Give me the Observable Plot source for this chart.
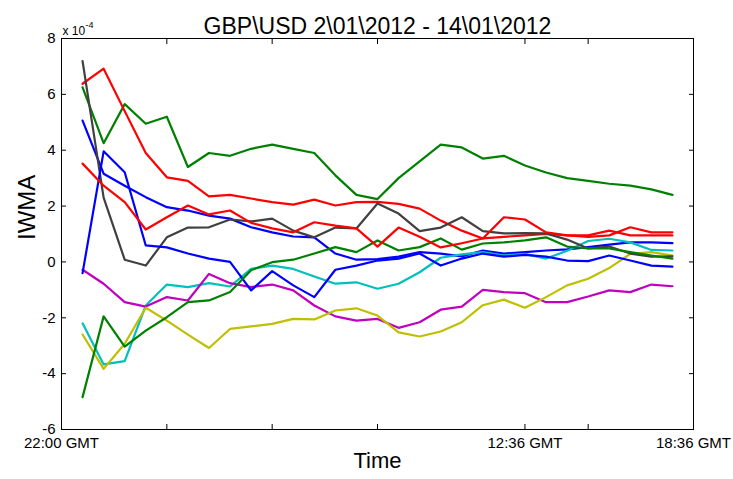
<!DOCTYPE html>
<html><head><meta charset="utf-8">
<script src="https://cdn.jsdelivr.net/npm/d3@7"></script>
<script src="https://cdn.jsdelivr.net/npm/@observablehq/plot@0.6"></script>
<style>body{margin:0;background:#fff;} svg{display:block}</style>
</head><body><div id="chart"></div>
<script>
// Observation index (x) — 29 samples
const steps = d3.range(29);
const xTicks = [-1, 4, 9, 14, 21, 24, 29];
const xTickLabels = {"-1": "22:00 GMT", "21": "12:36 GMT", "29": "18:36 GMT"};
const yTicks = [-6, -4, -2, 0, 2, 4, 6, 8];

// IWMA values in units of 1e-4
const blueA   = [5.06,3.16,2.73,2.32,1.96,1.84,1.66,1.55,1.24,1.06,0.91,0.88,0.3,0.08,0.1,0.19,0.35,0.3,0.2,0.41,0.3,0.35,0.41,0.45,0.53,0.62,0.7,0.7,0.67];
const greenA  = [6.25,4.25,5.65,4.95,5.2,3.4,3.9,3.8,4.05,4.2,4.05,3.9,3.1,2.4,2.25,3.0,3.6,4.2,4.1,3.7,3.8,3.45,3.2,3.0,2.9,2.8,2.73,2.6,2.4];
const redA    = [6.38,6.92,5.4,3.9,3.03,2.9,2.35,2.4,2.27,2.14,2.05,2.23,2.02,2.14,2.15,2.08,1.91,1.48,1.12,0.84,0.9,0.95,1.0,0.95,0.95,1.12,0.95,0.95,0.95];
const cyan    = [-2.2,-3.67,-3.55,-1.56,-0.81,-0.9,-0.76,-0.88,-0.25,-0.13,-0.25,-0.52,-0.78,-0.73,-0.96,-0.78,-0.37,0.15,0.27,0.35,0.23,0.29,0.12,0.4,0.75,0.83,0.7,0.43,0.41];
const magenta = [-0.28,-0.78,-1.44,-1.6,-1.26,-1.38,-0.43,-0.76,-0.9,-0.81,-1.02,-1.56,-1.95,-2.1,-2.04,-2.36,-2.16,-1.71,-1.6,-1.0,-1.08,-1.12,-1.44,-1.44,-1.24,-1.02,-1.08,-0.81,-0.87];
const yellow  = [-2.6,-3.83,-2.93,-1.64,-2.1,-2.6,-3.08,-2.4,-2.31,-2.22,-2.04,-2.06,-1.74,-1.66,-1.92,-2.52,-2.67,-2.49,-2.16,-1.55,-1.35,-1.64,-1.26,-0.84,-0.6,-0.22,0.29,0.35,0.23];
const gray    = [7.19,2.3,0.08,-0.13,0.88,1.23,1.24,1.52,1.45,1.55,1.12,0.88,1.23,1.2,2.09,1.73,1.1,1.23,1.6,1.1,1.02,1.03,1.02,0.8,0.48,0.55,0.3,0.19,0.2];
const blueB   = [-0.4,3.96,3.21,0.59,0.52,0.3,0.12,0.0,-1.02,-0.33,-0.84,-1.26,-0.28,-0.13,0.05,0.12,0.3,-0.13,0.12,0.3,0.19,0.25,0.19,0.05,0.03,0.23,0.05,-0.13,-0.17];
const greenB  = [-4.84,-1.95,-3.03,-2.46,-1.98,-1.44,-1.38,-1.08,-0.3,-0.01,0.08,0.3,0.53,0.35,0.77,0.41,0.53,0.84,0.44,0.66,0.7,0.77,0.88,0.55,0.48,0.48,0.35,0.23,0.12];
const redB    = [3.52,2.73,2.14,1.16,1.6,2.02,1.7,1.84,1.4,1.2,1.06,1.42,1.3,1.2,0.55,1.23,0.9,0.52,0.67,0.84,1.6,1.52,1.06,0.95,0.9,0.95,1.24,1.06,1.06];

const seriesNames  = ["blueA","greenA","redA","cyan","magenta","yellow","gray","blueB","greenB","redB"];
const seriesValues = [blueA, greenA, redA, cyan, magenta, yellow, gray, blueB, greenB, redB];
const seriesColors = ["#0000ff","#008000","#ff0000","#00bfbf","#bf00bf","#bfbf00","#404040","#0000ff","#008000","#ff0000"];

const rows = seriesNames.flatMap((name, k) => steps.map(i => ({name, i, v: seriesValues[k][i]})));

const chart = Plot.plot({
  width: 733, height: 479,
  marginLeft: 61, marginRight: 40, marginTop: 38, marginBottom: 50,
  style: {fontFamily: "'Liberation Sans', Arial, sans-serif", fontSize: "14px", color: "#000", background: "#fff"},
  x: {domain: [-1, 29]},
  y: {domain: [-6, 8]},
  color: {domain: seriesNames, range: seriesColors},
  marks: [
    Plot.line(rows, {x: "i", y: "v", z: "name", stroke: "name", strokeWidth: 2.2, strokeLinejoin: "round"}),
    Plot.frame({stroke: "#000", strokeWidth: 1}),
    Plot.axisX(xTicks, {anchor: "bottom", tickSize: -5, tickPadding: 13, fontSize: 15, tickFormat: d => xTickLabels[String(d)] ?? "", label: null}),
    Plot.axisX(xTicks, {anchor: "top", tickSize: -5, tickFormat: () => "", label: null}),
    Plot.axisY(yTicks, {anchor: "left", tickSize: -5, tickPadding: 11, fontSize: 15, tickFormat: d => String(d), label: null}),
    Plot.axisY(yTicks, {anchor: "right", tickSize: -5, tickFormat: () => "", label: null}),
    Plot.text(["GBP\\USD 2\\01\\2012 - 14\\01\\2012"], {frameAnchor: "top", dy: -21, fontSize: 23}),
    Plot.text(["Time"], {frameAnchor: "bottom", dy: 38, fontSize: 22}),
    Plot.text(["IWMA"], {frameAnchor: "left", dx: -34, dy: 6, rotate: -90, fontSize: 24}),
    Plot.text(["x 10"], {frameAnchor: "top-left", dx: 1, dy: -12, textAnchor: "start", fontSize: 12}),
    Plot.text(["-4"], {frameAnchor: "top-left", dx: 24, dy: -17, textAnchor: "start", fontSize: 9})
  ]
});
document.getElementById("chart").appendChild(chart);
</script>
</body></html>
